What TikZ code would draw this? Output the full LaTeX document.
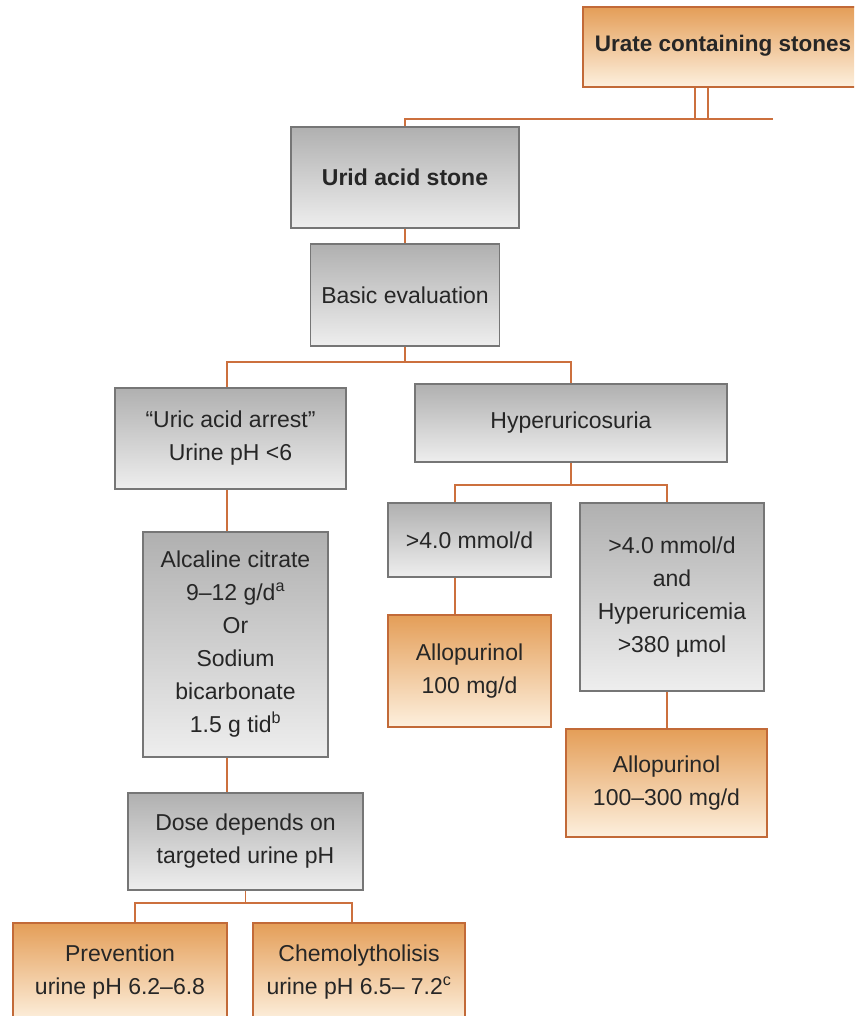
\documentclass[tikz,border=0pt]{standalone}
\usepackage{fontspec}
\setmainfont{Liberation Sans}
\definecolor{linkc}{RGB}{204,112,62}
\definecolor{grayedge}{RGB}{118,118,118}
\definecolor{graytop}{RGB}{176,176,176}
\definecolor{graybot}{RGB}{238,238,238}
\definecolor{orgedge}{RGB}{194,106,56}
\definecolor{orgtop}{RGB}{228,158,88}
\definecolor{orgbot}{RGB}{253,240,222}
\begin{document}
\begin{tikzpicture}[x=1pt,y=-1pt,
  box/.style={rectangle,inner sep=0pt,align=center,line width=1.4pt,text=black!85,
    font=\fontsize{23}{33}\selectfont},
  graybox/.style={box,draw=grayedge,top color=graytop,bottom color=graybot},
  orangebox/.style={box,draw=orgedge,top color=orgtop,bottom color=orgbot},
  link/.style={draw=linkc,line width=1.6pt}]
\useasboundingbox (0,0) rectangle (854,1016);
\clip (0,0) rectangle (854,1016);
\node[orangebox,minimum width=287pt,minimum height=80pt] (top) at (726.5,47) {};
\node (toplabel) at (723,46) {\fontsize{22.5}{33}\selectfont\color{black!85}\textbf{Urate containing stones}};
\node[graybox,minimum width=228pt,minimum height=101pt] (uas) at (405,177.5) {\textbf{Urid acid stone}};
\node[graybox,minimum width=189pt,minimum height=102pt] (basic) at (405,295) {Basic evaluation};
\node[graybox,minimum width=231pt,minimum height=101pt] (arrest) at (230.5,438.5) {“Uric acid arrest”\\Urine pH <6};
\node[graybox,minimum width=312pt,minimum height=78pt] (hyper) at (571,423) {Hyperuricosuria};
\node[graybox,minimum width=185pt,minimum height=225pt] (alc) at (235.5,644.5) {Alcaline citrate\\9–12 g/d\textsuperscript{a}\\Or\\Sodium\\bicarbonate\\1.5 g tid\textsuperscript{b}};
\node[graybox,minimum width=163pt,minimum height=74pt] (m4) at (469.5,540) {>4.0 mmol/d};
\node[graybox,minimum width=184pt,minimum height=188pt] (m4h) at (672,597) {>4.0 mmol/d\\and\\Hyperuricemia\\>380 µmol};
\node[orangebox,minimum width=163pt,minimum height=112pt] (allo1) at (469.5,671) {Allopurinol\\100 mg/d};
\node[orangebox,minimum width=201pt,minimum height=108pt] (allo2) at (666.5,783) {Allopurinol\\100–300 mg/d};
\node[graybox,minimum width=235pt,minimum height=97pt] (dose) at (245.5,841.5) {Dose depends on\\targeted urine pH};
\node[orangebox,minimum width=214pt,minimum height=98pt] (prev) at (120,972) {Prevention\\urine pH 6.2–6.8};
\node[orangebox,minimum width=212pt,minimum height=98pt] (chemo) at (359,972) {Chemolytholisis\\urine pH 6.5– 7.2\textsuperscript{c}};
\coordinate (tr) at (773,119);
\coordinate (t1) at (695,0);
\coordinate (t2) at (708,0);
\coordinate (b1) at (0,362);
\coordinate (b2) at (0,485);
\coordinate (b3) at (0,903);
\coordinate (lc) at (227,0);
\coordinate (c1) at (455,0);
\coordinate (c2) at (667,0);
\coordinate (c3) at (135,0);
\coordinate (c4) at (352,0);
\draw[link] (top.south -| t1) -- (tr -| t1);
\draw[link] (top.south -| t2) -- (tr -| t2);
\draw[link] (uas.north) |- (tr);
\draw[link] (uas) -- (basic);
\draw[link] (basic.south) -- (basic.south |- b1);
\draw[link] (arrest.north -| lc) |- (hyper.north |- b1) -- (hyper.north);
\draw[link] (arrest.south -| lc) -- (alc.north -| lc);
\draw[link] (alc.south -| lc) -- (dose.north -| lc);
\draw[link] (hyper.south) -- (hyper.south |- b2);
\draw[link] (m4.north -| c1) |- (c2 |- b2) -- (m4h.north -| c2);
\draw[link] (m4.south -| c1) -- (allo1.north -| c1);
\draw[link] (m4h.south -| c2) -- (allo2.north -| c2);
\draw[link] (dose.south) -- (dose.south |- b3);
\draw[link] (prev.north -| c3) |- (c4 |- b3) -- (chemo.north -| c4);
\end{tikzpicture}
\end{document}
